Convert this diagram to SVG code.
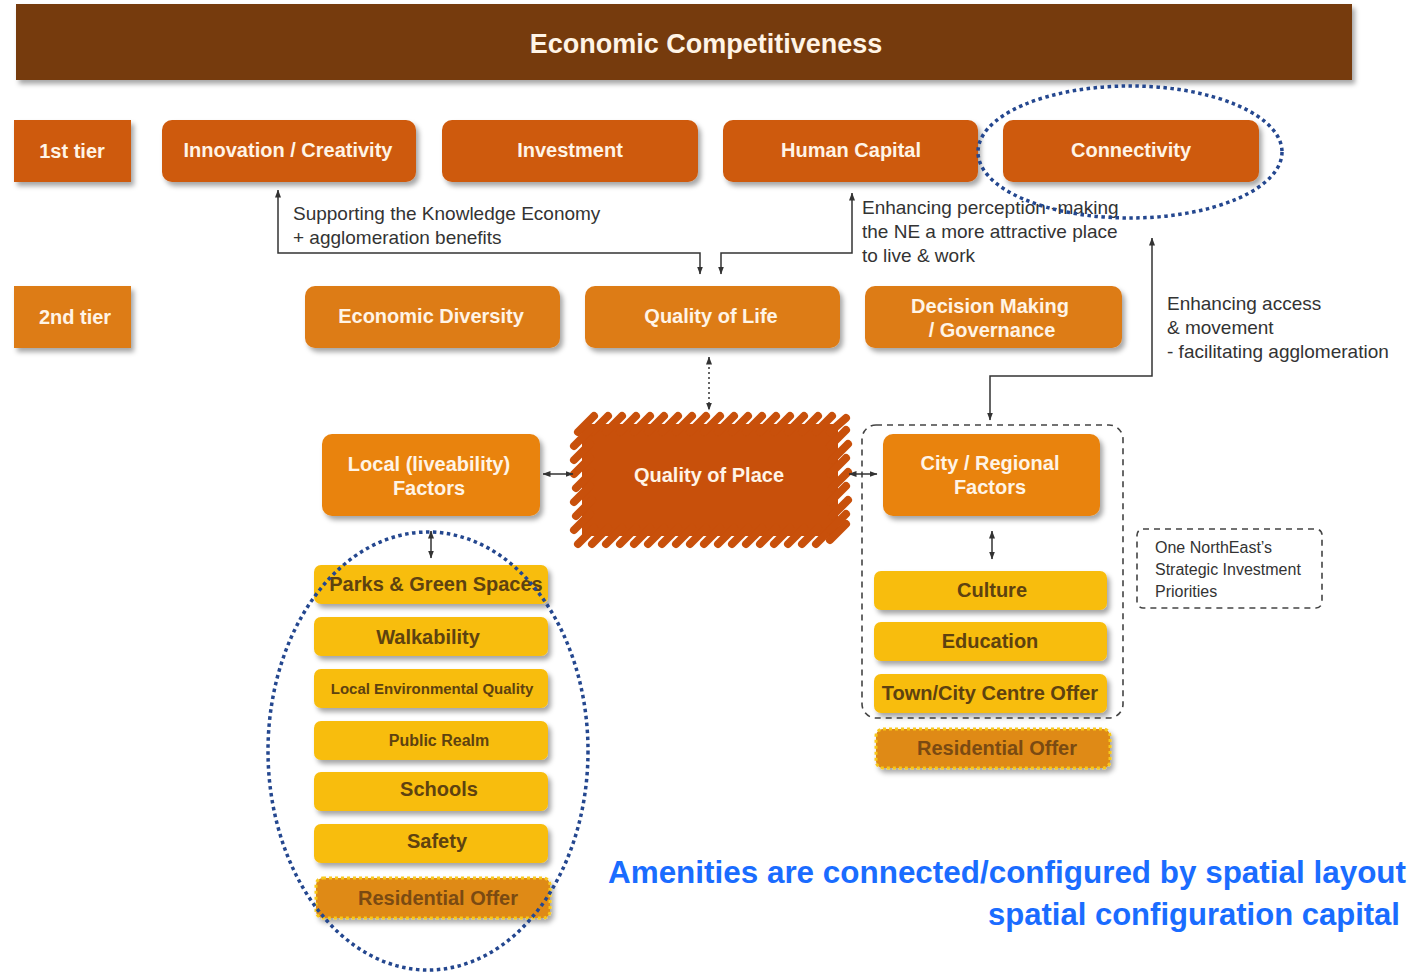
<svg xmlns="http://www.w3.org/2000/svg" width="1407" height="973" viewBox="0 0 1407 973">
<defs>
<filter id="sh" x="-10%" y="-20%" width="130%" height="170%">
<feDropShadow dx="3" dy="4" stdDeviation="2.5" flood-color="#000" flood-opacity="0.35"/>
</filter>
<marker id="ah" viewBox="0 0 8 6" refX="7.5" refY="3" markerWidth="8" markerHeight="6" markerUnits="userSpaceOnUse" orient="auto-start-reverse">
<path d="M0,0 L8,3 L0,6 z" fill="#333"/>
</marker>
<style>
.t1{fill:#CE5A0B;filter:url(#sh)}
.t2{fill:#DD7B18;filter:url(#sh)}
.lf{fill:#E9830F;filter:url(#sh)}
.yb{fill:#F8BD0C;filter:url(#sh)}
.ro{fill:#DF8A12;stroke:#F7C81C;stroke-width:3;stroke-dasharray:3 3;filter:url(#sh)}
.wt{font-family:"Liberation Sans Narrow","Liberation Sans",Arial,sans-serif;font-weight:bold;fill:#FFF4E6;text-anchor:middle}
.dt{font-family:"Liberation Sans Narrow","Liberation Sans",Arial,sans-serif;font-weight:bold;fill:#5E4210;text-anchor:middle}
.an{font-family:"Liberation Sans Narrow","Liberation Sans",Arial,sans-serif;font-size:19px;fill:#333}
.cn{fill:none;stroke:#333;stroke-width:1.5}
.bl{fill:none;stroke:#24478F;stroke-width:3.5;stroke-dasharray:3.5 3.5}
.dash{fill:none;stroke:#444;stroke-width:1.6;stroke-dasharray:6 5}
.qp{stroke:#C8500B;stroke-width:8;stroke-linecap:round}
</style>
</defs>
<rect width="1407" height="973" fill="#FFFFFF"/>

<g id="header">
<rect x="16" y="4" width="1336" height="76" fill="#763A10" filter="url(#sh)"/>
<text x="706" y="53" class="wt" style="font-family:'Liberation Sans',Arial,sans-serif" font-size="27">Economic Competitiveness</text>
</g>

<g id="tier1-label"><rect x="14" y="120" width="117" height="62" class="t1"/><text x="72" y="158" class="wt" font-size="20">1st tier</text></g>
<g id="innovation"><rect x="162" y="120" width="254" height="62" rx="10" class="t1"/><text x="288" y="157" class="wt" font-size="20">Innovation / Creativity</text></g>
<g id="investment"><rect x="442" y="120" width="256" height="62" rx="10" class="t1"/><text x="570" y="157" class="wt" font-size="20">Investment</text></g>
<g id="human-capital"><rect x="723" y="120" width="255" height="62" rx="10" class="t1"/><text x="851" y="157" class="wt" font-size="20">Human Capital</text></g>
<g id="connectivity"><rect x="1003" y="120" width="256" height="62" rx="10" class="t1"/><text x="1131" y="157" class="wt" font-size="20">Connectivity</text></g>

<g id="tier2-label"><rect x="14" y="286" width="117" height="62" class="t2"/><text x="75" y="324" class="wt" font-size="20">2nd tier</text></g>
<g id="economic-diversity"><rect x="305" y="286" width="255" height="62" rx="10" class="t2"/><text x="431" y="323" class="wt" font-size="20">Economic Diversity</text></g>
<g id="quality-of-life"><rect x="585" y="286" width="255" height="62" rx="10" class="t2"/><text x="711" y="323" class="wt" font-size="20">Quality of Life</text></g>
<g id="decision-making"><rect x="865" y="286" width="257" height="62" rx="10" class="t2"/><text x="990" y="313" class="wt" font-size="20">Decision Making</text><text x="992" y="337" class="wt" font-size="20">/ Governance</text></g>

<g id="quality-of-place">
<rect x="582" y="424" width="256" height="112" fill="#C8500B"/>
<g class="qp">
<line x1="578" y1="432" x2="594" y2="416"/><line x1="592" y1="432" x2="608" y2="416"/><line x1="606" y1="432" x2="622" y2="416"/><line x1="620" y1="432" x2="636" y2="416"/><line x1="634" y1="432" x2="650" y2="416"/><line x1="648" y1="432" x2="664" y2="416"/><line x1="662" y1="432" x2="678" y2="416"/><line x1="676" y1="432" x2="692" y2="416"/><line x1="690" y1="432" x2="706" y2="416"/><line x1="704" y1="432" x2="720" y2="416"/><line x1="718" y1="432" x2="734" y2="416"/><line x1="732" y1="432" x2="748" y2="416"/><line x1="746" y1="432" x2="762" y2="416"/><line x1="760" y1="432" x2="776" y2="416"/><line x1="774" y1="432" x2="790" y2="416"/><line x1="788" y1="432" x2="804" y2="416"/><line x1="802" y1="432" x2="818" y2="416"/><line x1="816" y1="432" x2="832" y2="416"/><line x1="830" y1="432" x2="846" y2="418"/>
<line x1="578" y1="544" x2="594" y2="528"/><line x1="592" y1="544" x2="608" y2="528"/><line x1="606" y1="544" x2="622" y2="528"/><line x1="620" y1="544" x2="636" y2="528"/><line x1="634" y1="544" x2="650" y2="528"/><line x1="648" y1="544" x2="664" y2="528"/><line x1="662" y1="544" x2="678" y2="528"/><line x1="676" y1="544" x2="692" y2="528"/><line x1="690" y1="544" x2="706" y2="528"/><line x1="704" y1="544" x2="720" y2="528"/><line x1="718" y1="544" x2="734" y2="528"/><line x1="732" y1="544" x2="748" y2="528"/><line x1="746" y1="544" x2="762" y2="528"/><line x1="760" y1="544" x2="776" y2="528"/><line x1="774" y1="544" x2="790" y2="528"/><line x1="788" y1="544" x2="804" y2="528"/><line x1="802" y1="544" x2="818" y2="528"/><line x1="816" y1="544" x2="832" y2="528"/><line x1="830" y1="540" x2="846" y2="524"/>
<line x1="574" y1="446" x2="590" y2="430"/><line x1="574" y1="460" x2="590" y2="444"/><line x1="574" y1="474" x2="590" y2="458"/><line x1="576" y1="488" x2="592" y2="472"/><line x1="574" y1="502" x2="590" y2="486"/><line x1="576" y1="516" x2="592" y2="500"/><line x1="574" y1="530" x2="590" y2="514"/>
<line x1="830" y1="446" x2="846" y2="430"/><line x1="832" y1="460" x2="848" y2="444"/><line x1="830" y1="474" x2="846" y2="458"/><line x1="832" y1="488" x2="848" y2="472"/><line x1="830" y1="502" x2="846" y2="486"/><line x1="832" y1="516" x2="848" y2="500"/><line x1="830" y1="530" x2="846" y2="514"/>
</g>
<text x="709" y="482" class="wt" font-size="20">Quality of Place</text>
</g>

<g id="local-factors"><rect x="322" y="434" width="218" height="82" rx="10" class="lf"/><text x="429" y="471" class="wt" font-size="20">Local (liveability)</text><text x="429" y="495" class="wt" font-size="20">Factors</text></g>

<g id="city-regional-group"><rect x="862" y="425" width="261" height="293" rx="14" class="dash"/></g>
<g id="city-regional"><rect x="883" y="434" width="217" height="82" rx="10" class="lf"/><text x="990" y="470" class="wt" font-size="20">City / Regional</text><text x="990" y="494" class="wt" font-size="20">Factors</text></g>
<g id="culture"><rect x="874" y="571" width="233" height="39" rx="7" class="yb"/><text x="992" y="597" class="dt" font-size="20">Culture</text></g>
<g id="education"><rect x="874" y="622" width="233" height="39" rx="7" class="yb"/><text x="990" y="648" class="dt" font-size="20">Education</text></g>
<g id="town-centre"><rect x="874" y="674" width="233" height="39" rx="7" class="yb"/><text x="990" y="700" class="dt" font-size="20">Town/City Centre Offer</text></g>
<g id="residential-right"><rect x="876" y="729" width="234" height="39" rx="7" class="ro"/><text x="997" y="755" class="dt" font-size="20" style="fill:#7A4A12">Residential Offer</text></g>

<g id="one-northeast"><rect x="1137" y="529" width="185" height="79" rx="6" class="dash"/>
<text class="an" style="font-size:16px" x="1155" y="553">One NorthEast’s</text>
<text class="an" style="font-size:16px" x="1155" y="575">Strategic Investment</text>
<text class="an" style="font-size:16px" x="1155" y="597">Priorities</text></g>

<g id="parks"><rect x="314" y="565" width="234" height="39" rx="7" class="yb"/><text x="436" y="591" class="dt" font-size="20">Parks &amp; Green Spaces</text></g>
<g id="walkability"><rect x="314" y="617" width="234" height="39" rx="7" class="yb"/><text x="428" y="644" class="dt" font-size="20">Walkability</text></g>
<g id="local-env"><rect x="314" y="669" width="234" height="39" rx="7" class="yb"/><text x="432" y="694" class="dt" font-size="15">Local Environmental Quality</text></g>
<g id="public-realm"><rect x="314" y="721" width="234" height="39" rx="7" class="yb"/><text x="439" y="746" class="dt" font-size="16">Public Realm</text></g>
<g id="schools"><rect x="314" y="772" width="234" height="39" rx="7" class="yb"/><text x="439" y="796" class="dt" font-size="20">Schools</text></g>
<g id="safety"><rect x="314" y="824" width="234" height="39" rx="7" class="yb"/><text x="437" y="848" class="dt" font-size="20">Safety</text></g>
<g id="residential-left"><rect x="316" y="878" width="234" height="40" rx="7" class="ro"/><text x="438" y="905" class="dt" font-size="20" style="fill:#7A4A12">Residential Offer</text></g>

<g id="connectors">
<path class="cn" d="M278,190 V253 H700 V274" marker-start="url(#ah)" marker-end="url(#ah)"/>
<path class="cn" d="M852,193 V253 H721 V274" marker-start="url(#ah)" marker-end="url(#ah)"/>
<path class="cn" d="M1152,238 V376 H990 V420" marker-start="url(#ah)" marker-end="url(#ah)"/>
<path class="cn" d="M709,357 V410" stroke-dasharray="2 3" marker-start="url(#ah)" marker-end="url(#ah)"/>
<path class="cn" d="M543,474 H573" marker-start="url(#ah)" marker-end="url(#ah)"/>
<path class="cn" d="M849,474 H877" marker-start="url(#ah)" marker-end="url(#ah)"/>
<path class="cn" d="M431,531 V558" marker-start="url(#ah)" marker-end="url(#ah)"/>
<path class="cn" d="M992,531 V559" marker-start="url(#ah)" marker-end="url(#ah)"/>
</g>

<g id="annotations">
<text class="an" x="293" y="220">Supporting the Knowledge Economy</text>
<text class="an" x="293" y="244">+ agglomeration benefits</text>
<text class="an" x="862" y="214">Enhancing perception -making</text>
<text class="an" x="862" y="238">the NE a more attractive place</text>
<text class="an" x="862" y="262">to live &amp; work</text>
<text class="an" x="1167" y="310">Enhancing access</text>
<text class="an" x="1167" y="334">&amp; movement</text>
<text class="an" x="1167" y="358">- facilitating agglomeration</text>
</g>

<g id="highlights">
<ellipse cx="1130" cy="152" rx="152" ry="66" class="bl"/>
<ellipse cx="428" cy="751" rx="160" ry="219" class="bl"/>
</g>

<g id="caption" font-family="'Liberation Sans Narrow','Liberation Sans',Arial,sans-serif" font-weight="bold" fill="#1A6CFF" font-size="31">
<text x="608" y="883" textLength="798" lengthAdjust="spacingAndGlyphs">Amenities are connected/configured by spatial layout</text>
<text x="988" y="925" textLength="412" lengthAdjust="spacingAndGlyphs">spatial configuration capital</text>
</g>
</svg>
